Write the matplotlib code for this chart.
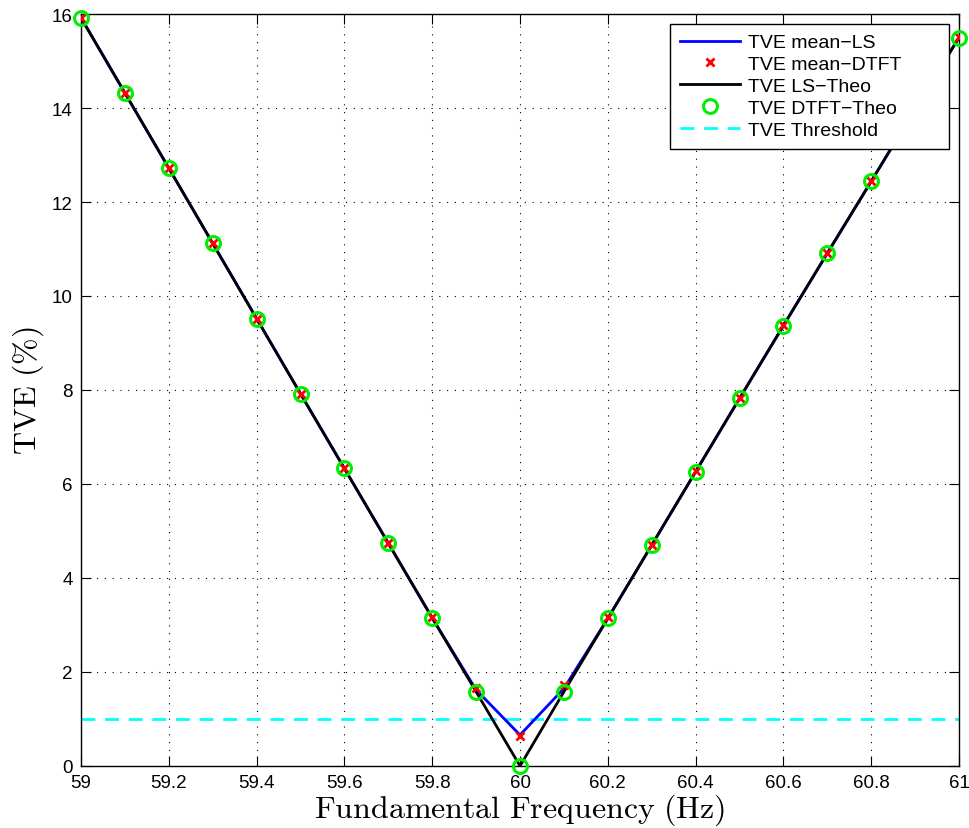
import numpy as np
import matplotlib
matplotlib.use('Agg')
import matplotlib.pyplot as plt

plt.rcParams['font.family'] = ['Liberation Sans', 'DejaVu Sans']
plt.rcParams['mathtext.fontset'] = 'cm'

freq = [59.0, 59.1, 59.2, 59.3, 59.4, 59.5, 59.6, 59.7, 59.8, 59.9, 60.0,
        60.1, 60.2, 60.3, 60.4, 60.5, 60.6, 60.7, 60.8, 60.9, 61.0]
tve_theo = [15.92, 14.32, 12.72, 11.12, 9.52, 7.92, 6.33, 4.74, 3.15, 1.58, 0.0,
            1.58, 3.14, 4.70, 6.26, 7.82, 9.37, 10.91, 12.44, 13.98, 15.50]
tve_ls = [15.92, 14.32, 12.72, 11.12, 9.52, 7.92, 6.33, 4.74, 3.15, 1.62, 0.66,
          1.65, 3.14, 4.70, 6.26, 7.82, 9.37, 10.91, 12.44, 13.98, 15.50]
tve_dtft = [15.92, 14.32, 12.72, 11.12, 9.52, 7.92, 6.33, 4.74, 3.16, 1.66, 0.63,
            1.72, 3.16, 4.71, 6.27, 7.83, 9.38, 10.92, 12.45, 13.99, 15.51]
threshold = 1.0

xticks = [59, 59.2, 59.4, 59.6, 59.8, 60, 60.2, 60.4, 60.6, 60.8, 61]
xticklabels = ['59', '59.2', '59.4', '59.6', '59.8', '60', '60.2', '60.4', '60.6', '60.8', '61']
yticks = [0, 2, 4, 6, 8, 10, 12, 14, 16]

fig = plt.figure(figsize=(9.69, 8.29), dpi=100)
ax = fig.add_axes([0.0836, 0.0748, 0.9061, 0.9071])

ax.plot(freq, tve_ls, color='blue', lw=2, label='TVE mean\u2212LS', zorder=3)
ax.plot(freq, tve_dtft, 'x', color='red', ms=6, mew=2, label='TVE mean\u2212DTFT', zorder=5)
ax.plot(freq, tve_theo, color='black', lw=2, label='TVE LS\u2212Theo', zorder=4)
ax.plot(freq, tve_theo, 'o', mfc='none', mec='#00ee00', ms=10, mew=2.2,
        label='TVE DTFT\u2212Theo', zorder=6, clip_on=False)
ax.axhline(threshold, color='cyan', lw=2, ls=(0, (5, 3.5)), label='TVE Threshold', zorder=2)

ax.set_xlim(59, 61)
ax.set_ylim(0, 16)
ax.set_xticks(xticks)
ax.set_xticklabels(xticklabels)
ax.set_yticks(yticks)
ax.tick_params(direction='in', length=7, labelsize=13.5, top=True, right=True, pad=6)
ax.grid(True, color='black', ls=(0, (1, 6)), lw=0.8)
for s in ax.spines.values():
    s.set_linewidth(1)

ax.set_xlabel(r'$\mathrm{Fundamental\ Frequency\ (Hz)}$', fontsize=23, labelpad=0)
ax.set_ylabel(r'$\mathrm{TVE\ (\%)}$', fontsize=23, labelpad=4)

# matlab-style legend box, wider than its text
leg = ax.legend(loc='upper left', bbox_to_anchor=(0.6708, 0.0, 0.3178, 0.9867),
                mode='expand', fontsize=14, fancybox=False, framealpha=1,
                edgecolor='black', borderaxespad=0.0, handlelength=3.1,
                handletextpad=0.4, labelspacing=0.22, borderpad=0.5)
leg.get_frame().set_linewidth(1)
leg.set_zorder(10)

fig.savefig('out.png', dpi=100)
